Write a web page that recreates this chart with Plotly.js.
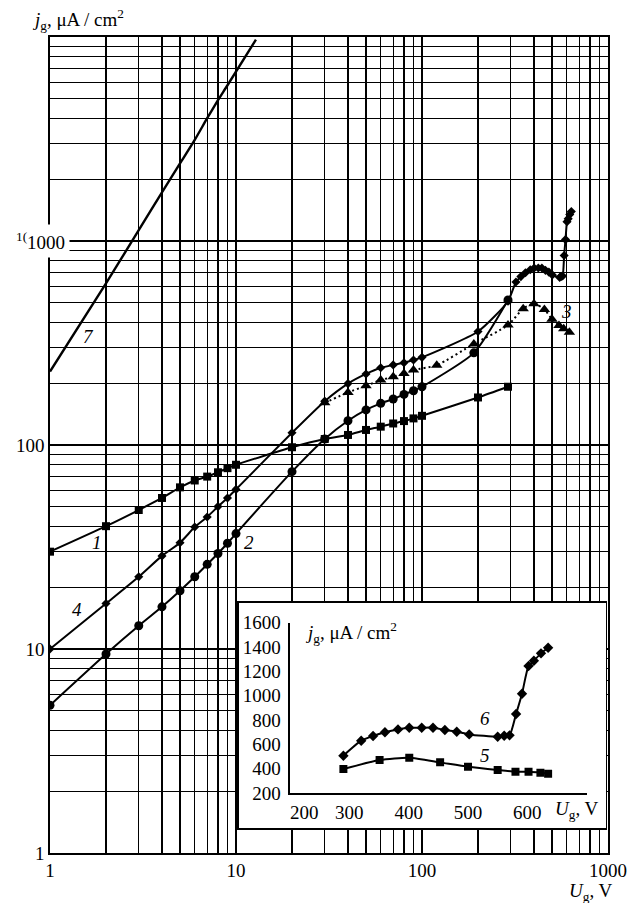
<!DOCTYPE html>
<html>
<head>
<meta charset="utf-8">
<script src="https://cdn.plot.ly/plotly-3.0.1.min.js"></script>
<style>
  html, body { margin: 0; padding: 0; background: #fff; }
  #chart { width: 637px; height: 903px; }
</style>
</head>
<body>
<div id="chart"></div>
<script>
// Grid current density j_g versus grid voltage U_g (log-log), with a linear inset.

// Curve 1 (squares)
const c1U = [1, 2, 3, 4, 5, 6, 7, 8, 9, 10, 20, 30, 40, 50, 60, 70, 80, 90, 100, 200, 290];
const c1J = [30, 40, 48, 55, 62, 67, 70, 73.5, 77, 80, 97.5, 107, 112, 118.5, 123, 127.5, 131, 135, 139, 171, 193];

// Curve 2 (circles)
const c2U = [1, 2, 3, 4, 5, 6, 7, 8, 9, 10, 20, 30, 40, 50, 60, 70, 80, 90, 100, 190, 290];
const c2J = [5.3, 9.45, 13, 16.1, 19.3, 22.6, 26, 29.4, 33, 36.8, 74, 107, 131.5, 148.6, 160, 168, 177, 184.5, 193, 283, 514];

// Curve 3 (triangles, dotted)
const c3U = [30, 40, 50, 60, 70, 80, 90, 120, 190, 290, 350, 400, 455, 500, 545, 578, 620];
const c3J = [161, 181, 195, 208, 216, 224, 233, 246, 313, 387, 466, 493, 462, 414, 385, 371, 357];

// Curve 4 (diamonds), low-voltage part; continues with curve 6 data above 290 V
const c4U = [1, 2, 3, 4, 5, 6, 7, 8, 9, 10, 20, 30, 40, 50, 60, 70, 80, 90, 100, 200];
const c4J = [10, 16.7, 22.6, 28.6, 33.2, 39.6, 44.4, 49.9, 55, 60.6, 114.8, 164, 200, 223, 239, 247, 253, 261, 269, 360];

// Curve 7 (no markers)
const c7U = [1, 2, 3, 4, 5, 6, 7, 8, 9, 12.8];
const c7J = [229, 620, 1130, 1730, 2400, 3130, 4000, 4900, 5800, 9700];

// Inset: curve 5 (squares) and curve 6 (diamonds)
const u5 = [290, 351, 401, 453, 500, 550, 580, 602, 622, 635];
const j5 = [397, 471, 490, 452, 416, 389, 375, 375, 367, 359];
const u6 = [290, 320, 340, 360, 382, 401, 422, 441, 461, 481, 502, 550, 561, 570, 581, 591, 602, 611, 623, 635];
const j6 = [507, 630, 669, 699, 723, 737, 737, 737, 718, 704, 682, 663, 671, 674, 849, 1016, 1244, 1287, 1348, 1394];

// Tick labels
const mainXLabels = ['1', '10', '100', '1000'];
const mainYLabels = ['1', '10', '100', '', ''];
const insetXVals = [200, 300, 400, 500, 600];
const insetXLabels = ['\u2002\u2002\u2002200', '300', '400', '500', '600'];
const insetYVals = [200, 400, 600, 800, 1000, 1200, 1400, 1600];

const FONT = 'Liberation Serif, Times New Roman, serif';
const BLACK = '#000';
const FS = 19;

// log grid: every integer multiple within each decade, labels only at decades
function logTicks(decades, labels) {
  const vals = [], text = [];
  for (let d = 0; d < decades; d++) {
    for (let k = 1; k <= 9; k++) {
      vals.push(k * Math.pow(10, d));
      text.push(k === 1 ? labels[d] : '');
    }
  }
  vals.push(Math.pow(10, decades));
  text.push(labels[decades] || '');
  return { vals, text };
}
const xt = logTicks(3, mainXLabels);
const yt = logTicks(4, mainYLabels);

const line = (w, dash) => ({ color: BLACK, width: w, shape: 'spline', smoothing: 0.6, dash: dash || 'solid' });

const traces = [
  { x: c7U, y: c7J, mode: 'lines', line: line(2.4), xaxis: 'x', yaxis: 'y' },
  { x: c1U, y: c1J, mode: 'lines+markers', line: line(2), marker: { symbol: 'square', size: 8, color: BLACK } },
  { x: c2U, y: c2J, mode: 'lines+markers', line: line(2), marker: { symbol: 'circle', size: 9, color: BLACK } },
  { x: c3U, y: c3J, mode: 'lines+markers', line: line(2, '2px,3px'), marker: { symbol: 'triangle-up', size: 10, color: BLACK } },
  { x: c4U.concat(u6), y: c4J.concat(j6), mode: 'lines+markers', line: line(2), marker: { symbol: 'diamond', size: 7, color: BLACK } },
  // inset frame subplot (empty)
  { x: [], y: [], xaxis: 'x2', yaxis: 'y2', mode: 'markers' },
  // inset curves
  { x: u6, y: j6, xaxis: 'x3', yaxis: 'y3', mode: 'lines+markers', line: line(2), marker: { symbol: 'diamond', size: 8, color: BLACK } },
  { x: u5, y: j5, xaxis: 'x3', yaxis: 'y3', mode: 'lines+markers', line: line(2), marker: { symbol: 'square', size: 8, color: BLACK } }
];
traces.forEach(t => { t.showlegend = false; t.hoverinfo = 'skip'; });

const tickFont = { family: FONT, size: FS, color: BLACK };
const italic = (s) => '<i>' + s + '</i>';
const curveLabel = (txt, x, y) => ({
  text: italic(txt), xref: 'paper', yref: 'paper', x: x, y: y,
  showarrow: false, font: { family: FONT, size: FS, color: BLACK }, xanchor: 'center', yanchor: 'middle'
});

const layout = {
  width: 637, height: 903,
  margin: { l: 50, r: 29, t: 37, b: 50 },
  paper_bgcolor: '#fff', plot_bgcolor: '#fff',
  font: { family: FONT, color: BLACK },
  showlegend: false,
  xaxis: {
    type: 'log', range: [0, 3], tickmode: 'array', tickvals: xt.vals, ticktext: xt.text,
    showgrid: true, gridcolor: BLACK, gridwidth: 1.3, zeroline: false,
    showline: true, linecolor: BLACK, linewidth: 1.6, mirror: true, ticks: '',
    tickfont: tickFont, fixedrange: true
  },
  yaxis: {
    type: 'log', range: [0, 4], tickmode: 'array', tickvals: yt.vals, ticktext: yt.text,
    showgrid: true, gridcolor: BLACK, gridwidth: 1.3, zeroline: false,
    showline: true, linecolor: BLACK, linewidth: 1.6, mirror: true, ticks: '',
    tickfont: tickFont, fixedrange: true
  },
  // white framed box holding the inset
  xaxis2: {
    domain: [0.3387, 0.9964], anchor: 'y2', range: [0, 1], showgrid: false, zeroline: false,
    showticklabels: false, showline: true, mirror: true, linecolor: BLACK, linewidth: 1.5, ticks: '', fixedrange: true
  },
  yaxis2: {
    domain: [0.0303, 0.3067], anchor: 'x2', range: [0, 1], showgrid: false, zeroline: false,
    showticklabels: false, showline: true, mirror: true, linecolor: BLACK, linewidth: 1.5, ticks: '', fixedrange: true
  },
  // inset axes (linear)
  xaxis3: {
    domain: [0.4301, 0.9618], anchor: 'y3', range: [200, 700], tickmode: 'array',
    tickvals: insetXVals, ticktext: insetXLabels, showgrid: false, zeroline: false,
    showline: true, linecolor: BLACK, linewidth: 1.5, ticks: '', tickfont: tickFont,
    ticklabelstandoff: 2, fixedrange: true
  },
  yaxis3: {
    domain: [0.0735, 0.2822], anchor: 'x3', range: [200, 1600], tickmode: 'array',
    tickvals: insetYVals, showgrid: false, zeroline: false,
    showline: true, linecolor: BLACK, linewidth: 1.5, ticks: '', tickfont: tickFont,
    ticklabelstandoff: 4, fixedrange: true
  },
  annotations: [
    // main axis titles
    { text: italic('j') + '<sub>g</sub>, \u03bcA / cm<sup>2</sup>', xref: 'paper', yref: 'paper',
      x: -0.036, y: 1.021, xanchor: 'left', yanchor: 'middle', showarrow: false,
      font: { family: FONT, size: FS, color: BLACK } },
    { text: italic('U') + '<sub>g</sub>, V', xref: 'paper', yref: 'paper',
      x: 1.013, y: -0.048, xanchor: 'right', yanchor: 'middle', showarrow: false,
      font: { family: FONT, size: FS, color: BLACK } },
    // 1000 label on the y axis
    { text: '<sup>1(</sup>1000', xref: 'paper', yref: 'y', x: 0.0358, y: 3,
      xanchor: 'right', yanchor: 'middle', showarrow: false, bgcolor: '#fff', borderpad: 4,
      font: { family: FONT, size: FS, color: BLACK } },
    // inset axis titles
    { text: italic('j') + '<sub>g</sub>, \u03bcA / cm<sup>2</sup>', xref: 'paper', yref: 'paper',
      x: 0.4534, y: 0.2708, xanchor: 'left', yanchor: 'middle', showarrow: false,
      font: { family: FONT, size: FS, color: BLACK } },
    { text: italic('U') + '<sub>g</sub>, V', xref: 'paper', yref: 'paper',
      x: 0.9014, y: 0.0527, xanchor: 'left', yanchor: 'middle', showarrow: false,
      font: { family: FONT, size: FS, color: BLACK } },
    // curve numbers
    curveLabel('1', 0.0837, 0.380),
    curveLabel('2', 0.357, 0.380),
    curveLabel('3', 0.926, 0.664),
    curveLabel('4', 0.049, 0.2987),
    curveLabel('7', 0.0686, 0.6327),
    curveLabel('6', 0.7796, 0.165),
    curveLabel('5', 0.7796, 0.120)
  ]
};

Plotly.newPlot('chart', traces, layout, { staticPlot: true, displayModeBar: false });
</script>
</body>
</html>
